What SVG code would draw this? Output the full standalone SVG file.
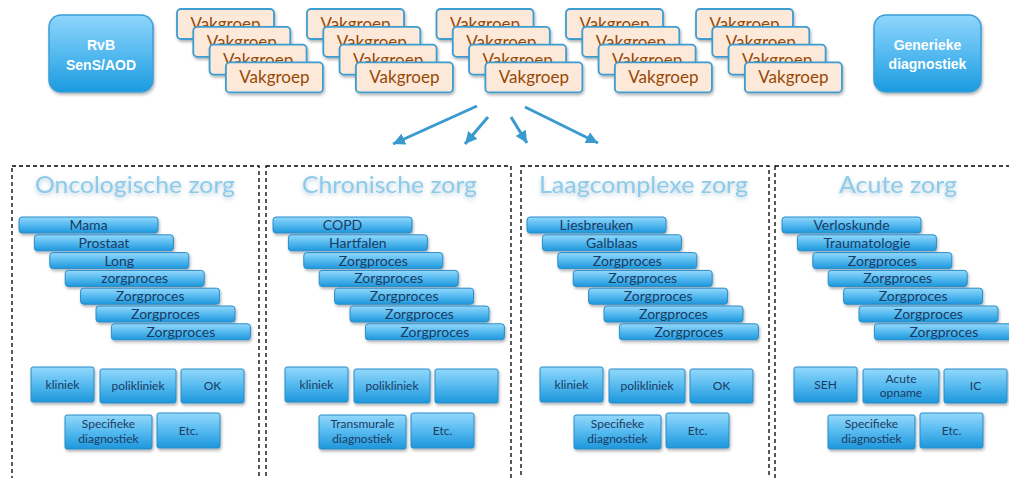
<svg xmlns="http://www.w3.org/2000/svg" width="1009" height="478" viewBox="0 0 1009 478">
  <defs>
    <linearGradient id="gBlue" x1="0" y1="0" x2="0" y2="1">
      <stop offset="0" stop-color="#8fd6fc"/>
      <stop offset="0.5" stop-color="#55baf0"/>
      <stop offset="1" stop-color="#1b9be0"/>
    </linearGradient>
    <linearGradient id="gBar" x1="0" y1="0" x2="0" y2="1">
      <stop offset="0" stop-color="#93d8fb"/>
      <stop offset="0.45" stop-color="#5bbdf1"/>
      <stop offset="1" stop-color="#1d97dc"/>
    </linearGradient>
    <filter id="shadow" x="-10%" y="-20%" width="130%" height="160%">
      <feDropShadow dx="1" dy="2" stdDeviation="1.5" flood-color="#000" flood-opacity="0.3"/>
    </filter>
    <filter id="glow" x="-10%" y="-30%" width="120%" height="170%">
      <feDropShadow dx="0" dy="2" stdDeviation="2" flood-color="#5a8fb0" flood-opacity="0.45"/>
    </filter>
    <marker id="arrow" markerUnits="userSpaceOnUse" markerWidth="14" markerHeight="12" refX="12" refY="6" orient="auto">
      <path d="M0,0 L12,6 L0,12 Z" fill="#3a9ad0"/>
    </marker>
    <style>
      .lead { fill: url(#gBlue); stroke: #3a9fd6; stroke-width: 1.5; filter: url(#shadow); }
      .leadTxt { font-family: "Liberation Sans", Arial, sans-serif; font-weight: bold; font-size: 14px; fill: #ffffff; text-anchor: middle; }
      .vak { fill: #fde9d9; stroke: #3c9dd0; stroke-width: 1.8; filter: url(#shadow); }
      .vakTxt { font-family: "Lato", "Liberation Sans", sans-serif; font-size: 17px; fill: #974806; text-anchor: middle; }
      .panel { fill: none; stroke: #000; stroke-width: 1.3; stroke-dasharray: 4 3; }
      .head { font-family: "Lato", "Liberation Sans", sans-serif; font-size: 24px; fill: #8ecbea; text-anchor: middle; filter: url(#glow); }
      .bar { fill: url(#gBar); stroke: #2a8cc8; stroke-width: 1; filter: url(#shadow); }
      .barTxt { font-family: "Lato", "Liberation Sans", sans-serif; font-size: 14px; fill: #1b3b63; text-anchor: middle; }
      .unit { fill: url(#gBar); stroke: #2a8cc8; stroke-width: 1; filter: url(#shadow); }
      .unitTxt { font-family: "Lato", "Liberation Sans", sans-serif; font-size: 12px; fill: #1b3b63; text-anchor: middle; }
      .conn { stroke: #3a9ad0; stroke-width: 3; fill: none; marker-end: url(#arrow); }
    </style>
  </defs>

  <rect width="1009" height="478" fill="#ffffff"/>

  <!-- governance blocks -->
  <g id="rvb">
    <rect class="lead" x="49" y="15" width="104" height="77" rx="12"/>
    <text class="leadTxt" x="101" y="50">RvB</text>
    <text class="leadTxt" x="101" y="70">SenS/AOD</text>
  </g>
  <g id="generiek">
    <rect class="lead" x="874" y="15" width="107" height="77" rx="12"/>
    <text class="leadTxt" x="927.5" y="50">Generieke</text>
    <text class="leadTxt" x="927.5" y="69">diagnostiek</text>
  </g>

  <!-- departments: five stacks of four -->
  <g id="vakgroepen-1">
    <rect class="vak" x="177" y="9" width="97" height="30" rx="4"/><text class="vakTxt" x="225.5" y="30">Vakgroep</text>
    <rect class="vak" x="193.3" y="26.8" width="97" height="30" rx="4"/><text class="vakTxt" x="241.8" y="47.8">Vakgroep</text>
    <rect class="vak" x="209.6" y="44.6" width="97" height="30" rx="4"/><text class="vakTxt" x="258.1" y="65.6">Vakgroep</text>
    <rect class="vak" x="225.9" y="62.4" width="97" height="30" rx="4"/><text class="vakTxt" x="274.4" y="83.4">Vakgroep</text>
  </g>
  <g id="vakgroepen-2" transform="translate(130,0)">
    <rect class="vak" x="177" y="9" width="97" height="30" rx="4"/><text class="vakTxt" x="225.5" y="30">Vakgroep</text>
    <rect class="vak" x="193.3" y="26.8" width="97" height="30" rx="4"/><text class="vakTxt" x="241.8" y="47.8">Vakgroep</text>
    <rect class="vak" x="209.6" y="44.6" width="97" height="30" rx="4"/><text class="vakTxt" x="258.1" y="65.6">Vakgroep</text>
    <rect class="vak" x="225.9" y="62.4" width="97" height="30" rx="4"/><text class="vakTxt" x="274.4" y="83.4">Vakgroep</text>
  </g>
  <g id="vakgroepen-3" transform="translate(259.5,0)">
    <rect class="vak" x="177" y="9" width="97" height="30" rx="4"/><text class="vakTxt" x="225.5" y="30">Vakgroep</text>
    <rect class="vak" x="193.3" y="26.8" width="97" height="30" rx="4"/><text class="vakTxt" x="241.8" y="47.8">Vakgroep</text>
    <rect class="vak" x="209.6" y="44.6" width="97" height="30" rx="4"/><text class="vakTxt" x="258.1" y="65.6">Vakgroep</text>
    <rect class="vak" x="225.9" y="62.4" width="97" height="30" rx="4"/><text class="vakTxt" x="274.4" y="83.4">Vakgroep</text>
  </g>
  <g id="vakgroepen-4" transform="translate(389,0)">
    <rect class="vak" x="177" y="9" width="97" height="30" rx="4"/><text class="vakTxt" x="225.5" y="30">Vakgroep</text>
    <rect class="vak" x="193.3" y="26.8" width="97" height="30" rx="4"/><text class="vakTxt" x="241.8" y="47.8">Vakgroep</text>
    <rect class="vak" x="209.6" y="44.6" width="97" height="30" rx="4"/><text class="vakTxt" x="258.1" y="65.6">Vakgroep</text>
    <rect class="vak" x="225.9" y="62.4" width="97" height="30" rx="4"/><text class="vakTxt" x="274.4" y="83.4">Vakgroep</text>
  </g>
  <g id="vakgroepen-5" transform="translate(519,0)">
    <rect class="vak" x="177" y="9" width="97" height="30" rx="4"/><text class="vakTxt" x="225.5" y="30">Vakgroep</text>
    <rect class="vak" x="193.3" y="26.8" width="97" height="30" rx="4"/><text class="vakTxt" x="241.8" y="47.8">Vakgroep</text>
    <rect class="vak" x="209.6" y="44.6" width="97" height="30" rx="4"/><text class="vakTxt" x="258.1" y="65.6">Vakgroep</text>
    <rect class="vak" x="225.9" y="62.4" width="97" height="30" rx="4"/><text class="vakTxt" x="274.4" y="83.4">Vakgroep</text>
  </g>

  <!-- connectors -->
  <g id="connectors">
    <line class="conn" x1="477" y1="106" x2="393" y2="144"/>
    <line class="conn" x1="488" y1="117" x2="465" y2="144"/>
    <line class="conn" x1="511" y1="117" x2="527" y2="143"/>
    <line class="conn" x1="525" y1="107" x2="598" y2="143"/>
  </g>

  <!-- care streams -->
  <g id="oncologische-zorg">
    <rect class="panel" x="12" y="166" width="247" height="330"/>
    <text class="head" x="135" y="193" textLength="200" lengthAdjust="spacingAndGlyphs">Oncologische zorg</text>
    <rect class="bar" x="19" y="217" width="139" height="16" rx="3"/><text class="barTxt" x="88.5" y="230">Mama</text>
    <rect class="bar" x="34.4" y="234.8" width="139" height="16" rx="3"/><text class="barTxt" x="103.9" y="247.8">Prostaat</text>
    <rect class="bar" x="49.8" y="252.6" width="139" height="16" rx="3"/><text class="barTxt" x="119.3" y="265.6">Long</text>
    <rect class="bar" x="65.2" y="270.4" width="139" height="16" rx="3"/><text class="barTxt" x="134.7" y="283.4">zorgproces</text>
    <rect class="bar" x="80.6" y="288.2" width="139" height="16" rx="3"/><text class="barTxt" x="150.1" y="301.2">Zorgproces</text>
    <rect class="bar" x="96" y="306" width="139" height="16" rx="3"/><text class="barTxt" x="165.5" y="319">Zorgproces</text>
    <rect class="bar" x="111.4" y="323.8" width="139" height="16" rx="3"/><text class="barTxt" x="180.9" y="336.8">Zorgproces</text>
    <rect class="unit" x="31" y="367" width="63" height="35" rx="2"/><text class="unitTxt" x="62.5" y="388.5">kliniek</text>
    <rect class="unit" x="100" y="369" width="76" height="34" rx="2"/><text class="unitTxt" x="138" y="390">polikliniek</text>
    <rect class="unit" x="181" y="369" width="63" height="34" rx="2"/><text class="unitTxt" x="212.5" y="390">OK</text>
    <rect class="unit" x="65" y="415" width="87" height="34" rx="2"/><text class="unitTxt" x="108.5" y="428">Specifieke</text><text class="unitTxt" x="108.5" y="443">diagnostiek</text>
    <rect class="unit" x="157" y="413" width="63" height="35" rx="2"/><text class="unitTxt" x="188.5" y="435">Etc.</text>
  </g>

  <g id="chronische-zorg" transform="translate(254,0)">
    <rect class="panel" x="12" y="166" width="245" height="330"/>
    <text class="head" x="135.5" y="193" textLength="175" lengthAdjust="spacingAndGlyphs">Chronische zorg</text>
    <rect class="bar" x="19" y="217" width="139" height="16" rx="3"/><text class="barTxt" x="88.5" y="230">COPD</text>
    <rect class="bar" x="34.4" y="234.8" width="139" height="16" rx="3"/><text class="barTxt" x="103.9" y="247.8">Hartfalen</text>
    <rect class="bar" x="49.8" y="252.6" width="139" height="16" rx="3"/><text class="barTxt" x="119.3" y="265.6">Zorgproces</text>
    <rect class="bar" x="65.2" y="270.4" width="139" height="16" rx="3"/><text class="barTxt" x="134.7" y="283.4">Zorgproces</text>
    <rect class="bar" x="80.6" y="288.2" width="139" height="16" rx="3"/><text class="barTxt" x="150.1" y="301.2">Zorgproces</text>
    <rect class="bar" x="96" y="306" width="139" height="16" rx="3"/><text class="barTxt" x="165.5" y="319">Zorgproces</text>
    <rect class="bar" x="111.4" y="323.8" width="139" height="16" rx="3"/><text class="barTxt" x="180.9" y="336.8">Zorgproces</text>
    <rect class="unit" x="31" y="367" width="63" height="35" rx="2"/><text class="unitTxt" x="62.5" y="388.5">kliniek</text>
    <rect class="unit" x="100" y="369" width="76" height="34" rx="2"/><text class="unitTxt" x="138" y="390">polikliniek</text>
    <rect class="unit" x="181" y="369" width="63" height="34" rx="2"/>
    <rect class="unit" x="65" y="415" width="87" height="34" rx="2"/><text class="unitTxt" x="108.5" y="428">Transmurale</text><text class="unitTxt" x="108.5" y="443">diagnostiek</text>
    <rect class="unit" x="157" y="413" width="63" height="35" rx="2"/><text class="unitTxt" x="188.5" y="435">Etc.</text>
  </g>

  <g id="laagcomplexe-zorg" transform="translate(509,0)">
    <rect class="panel" x="12" y="166" width="248" height="330"/>
    <text class="head" x="134.5" y="193" textLength="209" lengthAdjust="spacingAndGlyphs">Laagcomplexe zorg</text>
    <rect class="bar" x="18" y="217" width="139" height="16" rx="3"/><text class="barTxt" x="87.5" y="230">Liesbreuken</text>
    <rect class="bar" x="33.4" y="234.8" width="139" height="16" rx="3"/><text class="barTxt" x="102.9" y="247.8">Galblaas</text>
    <rect class="bar" x="48.8" y="252.6" width="139" height="16" rx="3"/><text class="barTxt" x="118.3" y="265.6">Zorgproces</text>
    <rect class="bar" x="64.2" y="270.4" width="139" height="16" rx="3"/><text class="barTxt" x="133.7" y="283.4">Zorgproces</text>
    <rect class="bar" x="79.6" y="288.2" width="139" height="16" rx="3"/><text class="barTxt" x="149.1" y="301.2">Zorgproces</text>
    <rect class="bar" x="95" y="306" width="139" height="16" rx="3"/><text class="barTxt" x="164.5" y="319">Zorgproces</text>
    <rect class="bar" x="110.4" y="323.8" width="139" height="16" rx="3"/><text class="barTxt" x="179.9" y="336.8">Zorgproces</text>
    <rect class="unit" x="31" y="367" width="63" height="35" rx="2"/><text class="unitTxt" x="62.5" y="388.5">kliniek</text>
    <rect class="unit" x="100" y="369" width="76" height="34" rx="2"/><text class="unitTxt" x="138" y="390">polikliniek</text>
    <rect class="unit" x="181" y="369" width="63" height="34" rx="2"/><text class="unitTxt" x="212.5" y="390">OK</text>
    <rect class="unit" x="65" y="415" width="87" height="34" rx="2"/><text class="unitTxt" x="108.5" y="428">Specifieke</text><text class="unitTxt" x="108.5" y="443">diagnostiek</text>
    <rect class="unit" x="157" y="413" width="63" height="35" rx="2"/><text class="unitTxt" x="188.5" y="435">Etc.</text>
  </g>

  <g id="acute-zorg" transform="translate(763,0)">
    <rect class="panel" x="12" y="166" width="260" height="330"/>
    <text class="head" x="135" y="193" textLength="118" lengthAdjust="spacingAndGlyphs">Acute zorg</text>
    <rect class="bar" x="19" y="217" width="139" height="16" rx="3"/><text class="barTxt" x="88.5" y="230">Verloskunde</text>
    <rect class="bar" x="34.4" y="234.8" width="139" height="16" rx="3"/><text class="barTxt" x="103.9" y="247.8">Traumatologie</text>
    <rect class="bar" x="49.8" y="252.6" width="139" height="16" rx="3"/><text class="barTxt" x="119.3" y="265.6">Zorgproces</text>
    <rect class="bar" x="65.2" y="270.4" width="139" height="16" rx="3"/><text class="barTxt" x="134.7" y="283.4">Zorgproces</text>
    <rect class="bar" x="80.6" y="288.2" width="139" height="16" rx="3"/><text class="barTxt" x="150.1" y="301.2">Zorgproces</text>
    <rect class="bar" x="96" y="306" width="139" height="16" rx="3"/><text class="barTxt" x="165.5" y="319">Zorgproces</text>
    <rect class="bar" x="111.4" y="323.8" width="139" height="16" rx="3"/><text class="barTxt" x="180.9" y="336.8">Zorgproces</text>
    <rect class="unit" x="31" y="367" width="63" height="35" rx="2"/><text class="unitTxt" x="62.5" y="388.5">SEH</text>
    <rect class="unit" x="100" y="369" width="76" height="34" rx="2"/><text class="unitTxt" x="138" y="383">Acute</text><text class="unitTxt" x="138" y="397">opname</text>
    <rect class="unit" x="181" y="369" width="63" height="34" rx="2"/><text class="unitTxt" x="212.5" y="390">IC</text>
    <rect class="unit" x="65" y="415" width="87" height="34" rx="2"/><text class="unitTxt" x="108.5" y="428">Specifieke</text><text class="unitTxt" x="108.5" y="443">diagnostiek</text>
    <rect class="unit" x="157" y="413" width="63" height="35" rx="2"/><text class="unitTxt" x="188.5" y="435">Etc.</text>
  </g>
</svg>
